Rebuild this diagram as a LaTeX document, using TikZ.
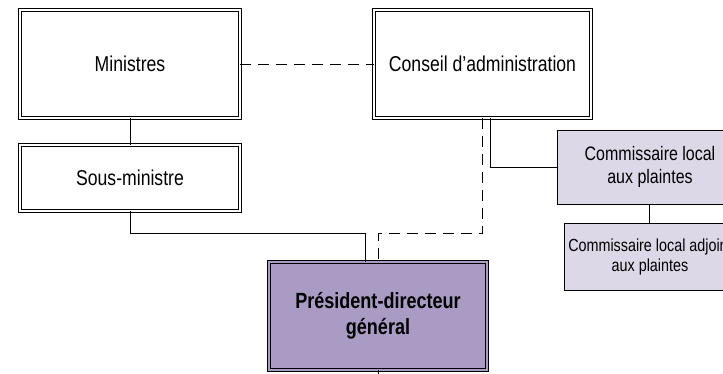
\documentclass[tikz,border=0pt]{standalone}
\usepackage{fontspec}
\setmainfont{Liberation Sans}[FakeStretch=0.82]
\definecolor{pdgfill}{HTML}{A99BC3}
\definecolor{commfill}{HTML}{DDD8E8}
\begin{document}
\begin{tikzpicture}[x=1pt,y=-1pt,
    dbox/.style={draw, line width=0.8pt, double, double distance=2.4pt, inner sep=0pt,
      align=center, font=\fontsize{21.5}{25}\selectfont},
    sbox/.style={draw, line width=0.8pt, fill=commfill, inner sep=0pt, align=center},
    dashline/.style={dash pattern=on 11pt off 7pt}]
      \useasboundingbox (0,0) rectangle (723,373);
      \node[dbox, minimum width=220pt, minimum height=108pt] (min) at (130,64) {Ministres};
      \node[dbox, minimum width=220pt, minimum height=66pt] (sous) at (130,178) {Sous-ministre};
      \node[dbox, minimum width=217pt, minimum height=108pt] (conseil) at (482.5,64) {Conseil d’administration};
      \node[dbox, fill=pdgfill, double=pdgfill, minimum width=218pt, minimum height=108pt,
        font=\fontsize{22}{26}\selectfont\bfseries] (pdg) at (378,316) {Président-directeur\\général};
      \node[sbox, minimum width=186pt, minimum height=74pt,
        font=\fontsize{19.5}{22.7}\selectfont] (comm) at (650,167) {Commissaire local\\aux plaintes};
      \node[sbox, minimum width=172pt, minimum height=67pt,
        font=\fontsize{17.5}{20}\selectfont] (adj) at (650,256.5) {Commissaire local adjoint\\aux plaintes};
      \coordinate (c1) at (130,233.5);
      \coordinate (c2) at (365,233.5);
      \coordinate (c3) at (482.5,233.5);
      \coordinate (c4) at (378,233.5);
      \coordinate (c5) at (490,168);
      \coordinate (c6) at (378,385);
      \begin{scope}[line width=0.8pt]
        \draw (min) to (sous);
        \draw[dashline] (min) to (conseil);
        \draw (sous.south) |- (c2) -- (c2 |- pdg.north);
        \draw[dashline] (conseil.south) -- (c3) -- (c4) -- (pdg.north);
        \draw (c5 |- conseil.south) |- (comm.west);
        \draw (649,0 |- comm.south) -- (649,0 |- adj.north);
        \draw (pdg.south) -- (c6);
      \end{scope}
    \end{tikzpicture}
\end{document}
